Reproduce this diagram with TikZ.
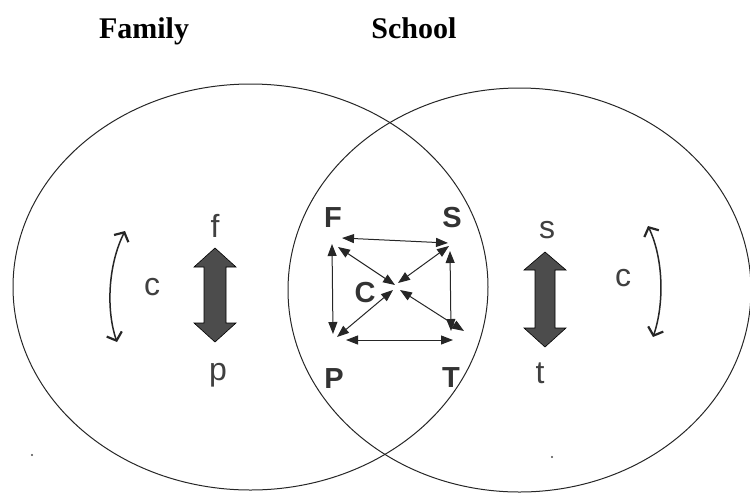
\documentclass[tikz,border=0pt]{standalone}
\usepackage{fontspec}
\setmainfont{Liberation Serif}
\newfontfamily\arial{Liberation Sans}
\usetikzlibrary{arrows.meta}
\tikzset{
  ring/.style={draw=black!85, line width=1.0pt},
  title/.style={font=\fontsize{30}{32}\selectfont\bfseries, anchor=base, inner sep=0pt},
  bigletter/.style={font=\arial\fontsize{29}{31}\selectfont\bfseries, anchor=base, inner sep=0pt, text=black!80},
  smallletter/.style={font=\arial\fontsize{32}{34}\selectfont, anchor=base, inner sep=0pt, text=black!75},
  link/.style={line width=1pt, draw=black!85, {Triangle[length=12pt,width=9pt]}-{Triangle[length=12pt,width=9pt]}},
  swing/.style={line width=1.5pt, draw=black!85, {Straight Barb[length=7pt,width=16pt,line width=2.2pt]}-{Straight Barb[length=7pt,width=16pt,line width=2.2pt]}},
  fatarrow/.style={draw=black, line width=0.6pt, fill=black!70},
  speck/.style={fill=black!70, draw=none}
}
\begin{document}
\begin{tikzpicture}[x=1pt,y=-1pt]
\useasboundingbox (0,0) rectangle (750,496);
% titles
\node[title] (family) at (144,38) {Family};
\node[title] (school) at (414,38) {School};
% circles
\draw[ring] (250.5,287) ellipse [x radius=237.5, y radius=203];
\draw[ring] (519.5,290) ellipse [x radius=231.5, y radius=202];
% specks
\fill[speck] (32,455) circle (1.2);
\fill[speck] (552,457) circle (1.2);
% center letters
\node[bigletter] (F) at (333,227) {F};
\node[bigletter] (S) at (452,227) {S};
\node[bigletter] (C) at (365,302) {C};
\node[bigletter] (P) at (334,388) {P};
\node[bigletter] (T) at (451,387) {T};
% connector ends
\coordinate (ftop) at (342,238);
\coordinate (stop) at (448,243);
\coordinate (fleft) at (332,244);
\coordinate (pleft) at (333,334);
\coordinate (sright) at (450,251);
\coordinate (tright) at (451,331);
\coordinate (pbot) at (346,340);
\coordinate (tbot) at (453,340);
\coordinate (fdiag) at (338,247);
\coordinate (cf) at (395,285);
\coordinate (sdiag) at (449,246);
\coordinate (cs) at (398,283);
\coordinate (pdiag) at (337,337);
\coordinate (cp) at (393,290);
\coordinate (tdiag) at (464,331);
\coordinate (ct) at (400,290);
\draw[link] (ftop) -- (stop);
\draw[link] (fleft) -- (pleft);
\draw[link] (sright) -- (tright);
\draw[link] (pbot) -- (tbot);
\draw[link] (fdiag) -- (cf);
\draw[link] (sdiag) -- (cs);
\draw[link] (pdiag) -- (cp);
\draw[link] (tdiag) -- (ct);
% left side
\node[smallletter] (f) at (215,237) {f};
\node[smallletter] (p) at (218,380) {p};
\node[smallletter] (cl) at (152,295) {c};
\draw[fatarrow] (215,248) -- (236,267) -- (226,267) -- (226,323) -- (236,323) -- (215,342)
  -- (194,323) -- (204,323) -- (204,267) -- (194,267) -- cycle;
\coordinate (lc1) at (125,231);
\coordinate (lc2) at (117,342);
\draw[swing] (lc1) .. controls (108,265) and (106,310) .. (lc2);
% right side
\node[smallletter] (s) at (547,238) {s};
\node[smallletter] (t) at (540,383) {t};
\node[smallletter] (cr) at (623,286) {c};
\draw[fatarrow] (545,252) -- (566,270) -- (555,270) -- (555,328) -- (566,328) -- (545,347)
  -- (524,328) -- (535,328) -- (535,270) -- (524,270) -- cycle;
\coordinate (rc1) at (648,226);
\coordinate (rc2) at (653,337);
\draw[swing] (rc1) .. controls (664,260) and (664,305) .. (rc2);
\end{tikzpicture}
\end{document}
